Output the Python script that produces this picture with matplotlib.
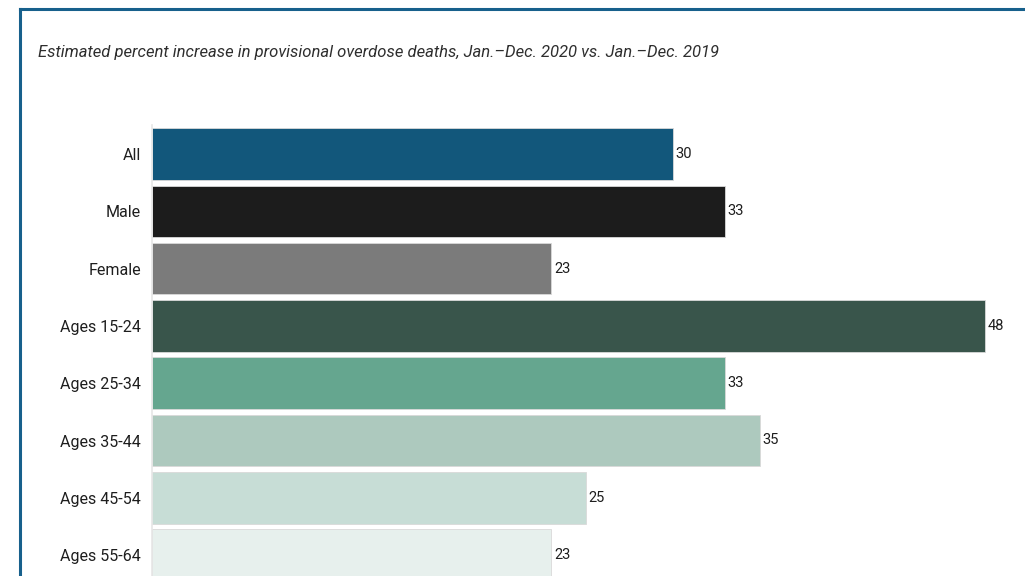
import matplotlib
matplotlib.use("Agg")
import matplotlib.pyplot as plt
from matplotlib.lines import Line2D

# data
categories = ["All", "Male", "Female", "Ages 15-24", "Ages 25-34",
              "Ages 35-44", "Ages 45-54", "Ages 55-64"]
values = [30, 33, 23, 48, 33, 35, 25, 23]
bar_colors = ["#12577b", "#1c1c1c", "#7b7b7b", "#39554b",
              "#65a68f", "#adc9be", "#c7ddd6", "#e7f0ed"]
title = "Estimated percent increase in provisional overdose deaths, Jan.\u2013Dec. 2020 vs. Jan.\u2013Dec. 2019"

plt.rcParams["font.family"] = ["Roboto", "DejaVu Sans"]

W, H = 1025, 576
fig = plt.figure(figsize=(W / 100, H / 100), dpi=100)

# axes placed in pixel terms: x 152..1020, rows 57.3 px apart, first centre at 154
pitch = 57.3
top_px = 154 - pitch / 2
bot_px = 154 + pitch * 7.5
ax = fig.add_axes([152 / W, (H - bot_px) / H, (1020 - 152) / W, (bot_px - top_px) / H])

ypos = list(range(len(categories)))
ax.barh(ypos, values, height=0.9, color=bar_colors,
        edgecolor="#d9d9d9", linewidth=0.6)

for y, v in zip(ypos, values):
    ax.text(v + 0.15, y, str(v), va="center", ha="left",
            fontsize=10.5, color="#1e1e1e")

ax.set_xlim(0, 50)
ax.set_ylim(len(categories) - 0.5, -0.5)
ax.set_yticks(ypos)
ax.set_yticklabels(categories, fontsize=11.5, color="#1e1e1e")
ax.tick_params(axis="y", length=0, pad=8)
ax.set_xticks([])
for side in ["top", "right", "bottom"]:
    ax.spines[side].set_visible(False)
ax.spines["left"].set_color("#e6e6e6")
ax.spines["left"].set_linewidth(1.2)

fig.text(38 / W, 1 - 52 / H, title, ha="left", va="center",
         fontsize=12, style="italic", color="#2e2e2e")

# frame around the graphic (top and left edges visible)
frame = "#17608c"
fig.add_artist(Line2D([20 / W, 1.0], [1 - 9 / H, 1 - 9 / H],
                      transform=fig.transFigure, color=frame, linewidth=2.2))
fig.add_artist(Line2D([20 / W, 20 / W], [1 - 9 / H, 0.0],
                      transform=fig.transFigure, color=frame, linewidth=2.2))

fig.savefig("out.png", dpi=100)
